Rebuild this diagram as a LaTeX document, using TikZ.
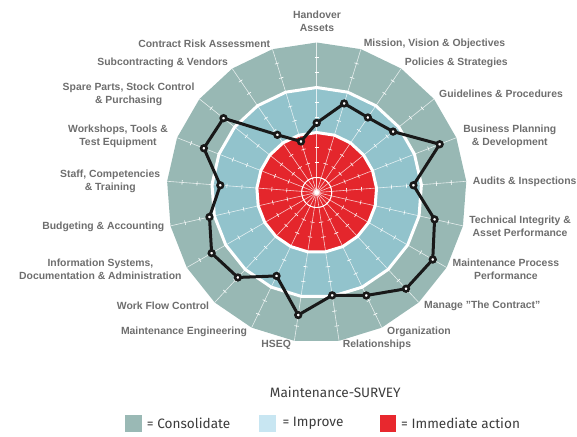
\documentclass[tikz,border=0pt]{standalone}
\usepackage{fontspec}
\setmainfont{Liberation Sans}
\newfontfamily\titlefont{Fira Sans}
\definecolor{consol}{RGB}{152,184,180}
\definecolor{improve}{RGB}{146,195,204}
\definecolor{immed}{RGB}{228,38,44}
\definecolor{legconsol}{RGB}{154,185,181}
\definecolor{legimp}{RGB}{200,230,242}
\definecolor{legimmed}{RGB}{232,40,46}
\definecolor{labgray}{RGB}{110,110,110}
\definecolor{txtdark}{RGB}{60,60,60}
\tikzset{
  axisline/.style={white, opacity=0.75, line width=0.6pt},
  tickmark/.style={white, line width=0.6pt},
  ringedge/.style={white, line width=3pt, line join=miter},
  dataline/.style={black!90, line width=3pt, line join=round},
  datamark/.style={circle, draw=black!90, fill=white, line width=2.6pt, minimum size=5.6pt, inner sep=0pt},
  lab/.style={text=labgray, font=\fontsize{10.4}{13}\selectfont\bfseries, align=center, inner sep=0pt},
  legtext/.style={text=txtdark, font=\titlefont\fontsize{13.6}{16}\selectfont, anchor=west, inner sep=0pt},
  legbox/.style={minimum size=16.7pt, inner sep=0pt, anchor=north west}
}
\begin{document}
\begin{tikzpicture}[x=1pt,y=-1pt]
\useasboundingbox (0,0) rectangle (577,436);
\coordinate (O) at (316.7,192.5);
\begin{scope}[shift={(O)}]
  % rings
  \fill[consol] (-90:150) \foreach \k in {1,...,20} {-- (-90+\k*360/21:150)} -- cycle;
  \filldraw[ringedge, fill=improve] (-90:105) \foreach \k in {1,...,20} {-- (-90+\k*360/21:105)} -- cycle;
  \filldraw[ringedge, fill=immed] (-90:60) \foreach \k in {1,...,20} {-- (-90+\k*360/21:60)} -- cycle;
  % axes and ticks
  \foreach \k in {0,...,20} {
    \draw[axisline] (0,0) -- (-90+\k*360/21:150);
    \begin{scope}[rotate=90-\k*360/21]
      \foreach \t in {1,2,3,5,6,8,9} {
        \draw[tickmark] (\t*15,-2.2) -- (\t*15,2.2);
      }
    \end{scope}
  }
  \draw[white, line width=0.9pt] (0,0) circle (15);
  \fill[white] (0,0) circle (2.2);
  \fill[white, opacity=0.5] (0,0) circle (3.5);
  % data
  \foreach \k/\r in {0/69.6,1/93.2,2/90.8,3/97.7,4/132.1,5/97.0,6/120.9,7/134,8/131.3,9/114.3,10/104,11/123.9,12/92.6,13/115.9,14/121.3,15/110,16/96.7,17/121.2,18/119.2,19/69.8,20/53.4} {
    \coordinate (d\k) at (-90+\k*360/21:\r);
  }
\end{scope}
\draw[dataline] (d0) -- (d1) -- (d2) -- (d3) -- (d4) -- (d5) -- (d6) -- (d7) -- (d8) -- (d9) -- (d10) -- (d11) -- (d12) -- (d13) -- (d14) -- (d15) -- (d16) -- (d17) -- (d18) -- (d19) -- (d20) -- cycle;
\foreach \k in {0,...,20} { \node[datamark] (m\k) at (d\k) {}; }
% labels
\node[lab] (l0) at (317,21) {Handover\\Assets};
\node[lab] (l1) at (434.5,44) {Mission, Vision \& Objectives};
\node[lab] (l2) at (456.3,63.3) {Policies \& Strategies};
\node[lab] (l3) at (501,94) {Guidelines \& Procedures};
\node[lab] (l4) at (509.8,136.3) {Business Planning\\\& Development};
\node[lab] (l5) at (524.7,181.7) {Audits \& Inspections};
\node[lab] (l6) at (520.1,226.7) {Technical Integrity \&\\Asset Performance};
\node[lab] (l7) at (505.9,269.5) {Maintenance Process\\Performance};
\node[lab] (l8) at (482.3,305.7) {Manage {\char34}The Contract{\char34}};
\node[lab] (l9) at (419,331.7) {Organization};
\node[lab] (l10) at (377,345) {Relationships};
\node[lab] (l11) at (276.2,345) {HSEQ};
\node[lab] (l12) at (184,331.7) {Maintenance Engineering};
\node[lab] (l13) at (163,305.7) {Work Flow Control};
\node[lab] (l14) at (100.4,269.7) {Information Systems,\\Documentation \& Administration};
\node[lab] (l15) at (103.3,226.7) {Budgeting \& Accounting};
\node[lab] (l16) at (110.2,181.3) {Staff, Competencies\\\& Training};
\node[lab] (l17) at (118,136.3) {Workshops, Tools \&\\Test Equipment};
\node[lab] (l18) at (128.6,94.5) {Spare Parts, Stock Control\\\& Purchasing};
\node[lab] (l19) at (162.7,63.3) {Subcontracting \& Vendors};
\node[lab] (l20) at (204.2,43.7) {Contract Risk Assessment};
% title and legend
\node[text=txtdark, font=\titlefont\fontsize{13.6}{16}\selectfont, inner sep=0pt] (title) at (335.3,392) {Maintenance-SURVEY};
\node[legbox, fill=legconsol] (b1) at (125,415) {};
\node[legtext] (t1) at (146.7,423.2) {= Consolidate};
\node[legbox, fill=legimp] (b2) at (259,415) {};
\node[legtext] (t2) at (282.3,423.2) {= Improve};
\node[legbox, fill=legimmed] (b3) at (379.3,415) {};
\node[legtext] (t3) at (401,423.2) {= Immediate action};
\end{tikzpicture}
\end{document}
